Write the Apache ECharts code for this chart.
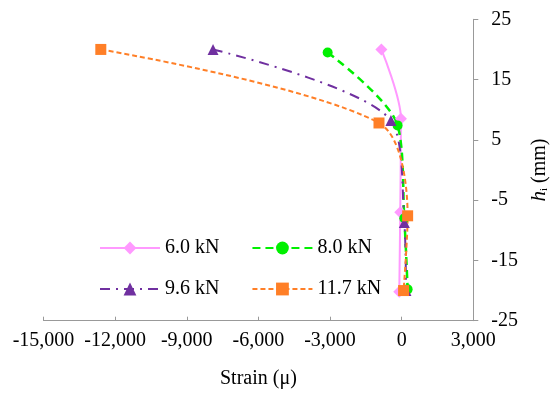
<!DOCTYPE html>
<html><head><meta charset="utf-8">
<script src="https://cdn.jsdelivr.net/npm/echarts@6/dist/echarts.min.js"></script>
<style>html,body{margin:0;padding:0;background:#fff}#c{width:550px;height:395px}</style>
</head><body><div id="c"></div>
<script>
var seriesNames = ['6.0 kN', '8.0 kN', '9.6 kN', '11.7 kN'];
var s60x = [-850, -30, -60, -100];
var s60y = [20, 8.5, -7, -20.2];
var s80x = [-3100, -170, 110, 250];
var s80y = [19.5, 7.4, -8, -19.8];
var s96x = [-7900, -450, 110, 180];
var s96y = [20, 8.2, -8.7, -20];
var s117x = [-12600, -950, 250, 80];
var s117y = [20, 7.8, -7.6, -20];
var xTicks = [-15000, -12000, -9000, -6000, -3000, 0, 3000];
var yTicks = [-25, -15, -5, 5, 15, 25];

function pairs(xs, ys) { return xs.map(function (v, i) { return [v, ys[i]]; }); }
var FONT = 'Liberation Serif';
var FS = 20;
var chart = echarts.init(document.getElementById('c'));
function mk(name, xs, ys, color, symbol, size, type, width) {
  return {
    name: name, type: 'line', data: pairs(xs, ys), smooth: 0.3,
    symbol: symbol, symbolSize: size,
    itemStyle: { color: color },
    lineStyle: { color: color, type: type, width: width },
    z: 3
  };
}
chart.setOption({
  animation: false,
  textStyle: { fontFamily: FONT },
  grid: { left: 43.5, right: 76.7, top: 19.3, bottom: 74.3, containLabel: false, outerBoundsMode: 'none' },
  xAxis: {
    type: 'value', min: xTicks[0], max: xTicks[xTicks.length - 1], interval: 3000,
    name: 'Strain (\u03bc)', nameLocation: 'middle', nameGap: 48,
    nameTextStyle: { fontFamily: FONT, fontSize: FS, color: '#000' },
    axisLine: { onZero: false, lineStyle: { color: '#999', width: 1 } },
    axisTick: { inside: true, length: 4, lineStyle: { color: '#999' } },
    axisLabel: { fontFamily: FONT, fontSize: FS, color: '#000', margin: 10 },
    splitLine: { show: false }
  },
  yAxis: {
    type: 'value', position: 'right', min: yTicks[0], max: yTicks[yTicks.length - 1], interval: 10,
    name: '{i|h}{s|i} (mm)', nameLocation: 'middle', nameGap: 44, nameRotate: 90,
    nameTextStyle: {
      fontFamily: FONT, fontSize: FS, color: '#000',
      rich: {
        i: { fontFamily: FONT, fontSize: 21, fontStyle: 'italic', color: '#000' },
        s: { fontFamily: FONT, fontSize: 11, verticalAlign: 'bottom', padding: [8, 0, 0, 0], color: '#000' }
      }
    },
    axisLine: { show: true, onZero: false, lineStyle: { color: '#999', width: 1 } },
    axisTick: { show: true, inside: false, length: 5, lineStyle: { color: '#999' } },
    axisLabel: { fontFamily: FONT, fontSize: FS, color: '#000', margin: 18 },
    splitLine: { show: false }
  },
  legend: [
    { data: [seriesNames[0], seriesNames[1]], left: 94, top: 233, itemWidth: 60, itemHeight: 16, itemGap: 32,
      textStyle: { fontFamily: FONT, fontSize: FS, color: '#000' } },
    { data: [seriesNames[2], seriesNames[3]], left: 94, top: 274, itemWidth: 60, itemHeight: 16, itemGap: 32,
      textStyle: { fontFamily: FONT, fontSize: FS, color: '#000' } }
  ],
  series: [
    mk(seriesNames[0], s60x, s60y, '#FF99FF', 'diamond', 12, 'solid', 2),
    mk(seriesNames[1], s80x, s80y, '#00F000', 'circle', 10, [8, 5], 2.5),
    mk(seriesNames[2], s96x, s96y, '#7030A0', 'triangle', 11, [10, 6, 2, 6], 2),
    mk(seriesNames[3], s117x, s117y, '#FF7F27', 'rect', 11, [5, 3], 2)
  ]
});
</script></body></html>
